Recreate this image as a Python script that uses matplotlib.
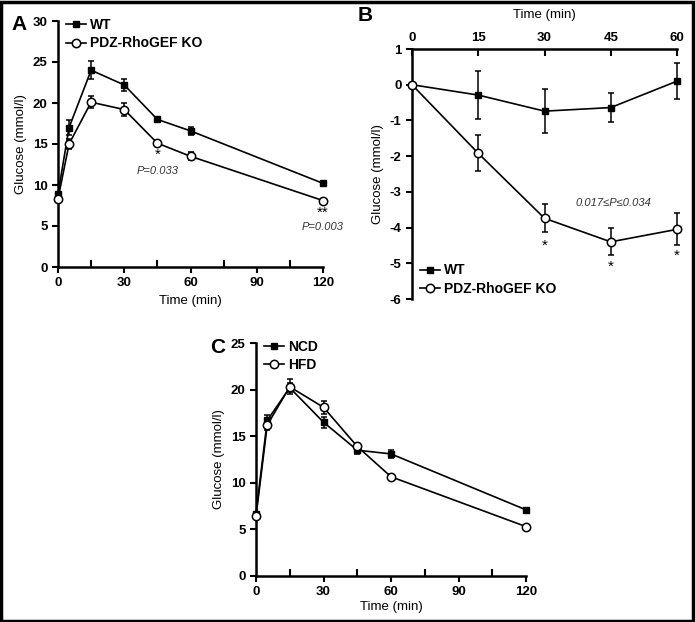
import numpy as np
import matplotlib.pyplot as plt
from matplotlib.patches import Rectangle
from matplotlib.lines import Line2D

plt.rcParams['font.family'] = ['Liberation Sans', 'DejaVu Sans']
plt.rcParams['axes.unicode_minus'] = False

# panel A: OGTT, WT vs KO
t_a = [0, 5, 15, 30, 45, 60, 120]
wt_a = [8.9, 17.0, 24.0, 22.2, 18.0, 16.6, 10.2]
wt_a_err = [0.3, 0.9, 1.1, 0.75, 0.35, 0.45, 0.2]
ko_a = [8.3, 15.0, 20.1, 19.2, 15.1, 13.5, 8.1]
ko_a_err = [0.2, 0.65, 0.75, 0.75, 0.2, 0.5, 0.2]

# panel B: change in glucose
t_b = [0, 15, 30, 45, 60]
wt_b = [0, -0.29, -0.74, -0.64, 0.1]
wt_b_err = [0, 0.68, 0.62, 0.41, 0.5]
ko_b = [0, -1.92, -3.74, -4.4, -4.05]
ko_b_err = [0, 0.5, 0.39, 0.38, 0.45]

# panel C: NCD vs HFD
t_c = [0, 5, 15, 30, 45, 60, 120]
ncd_c = [6.7, 16.7, 20.2, 16.5, 13.5, 13.1, 7.1]
ncd_c_err = [0.2, 0.6, 0.5, 0.6, 0.4, 0.4, 0.2]
hfd_c = [6.4, 16.2, 20.3, 18.1, 13.9, 10.65, 5.3]
hfd_c_err = [0.2, 0.5, 0.8, 0.7, 0.4, 0.3, 0.1]

W, H = 695, 622
fig = plt.figure(figsize=(W/100, H/100), dpi=100)

def box(l, t, r, b):
	return [l/W, 1-b/H, (r-l)/W, (b-t)/H]

def mstyle(filled):
	if filled:
		return dict(marker='s', ms=4.5, mfc='black', mec='black')
	return dict(marker='o', ms=6, mfc='white', mec='black', mew=1.1)

def series(ax, x, y, e, filled):
	c = ax.errorbar(x, y, yerr=e, color='black', lw=1.2, capsize=2.5, elinewidth=1.1,
		capthick=1.1, zorder=3 if filled else 4, **mstyle(filled))
	for a in c.get_children():
		a.set_clip_on(False)
	c[0].set_clip_on(False)

def legend(ax, labels, **kw):
	hs = [Line2D([], [], color='black', lw=1.2, **mstyle(True)),
		Line2D([], [], color='black', lw=1.2, **mstyle(False))]
	ax.legend(hs, labels, frameon=False, prop={'size': 10, 'weight': 'bold'},
		handlelength=1.4, handletextpad=0.3, labelspacing=0.3, borderaxespad=0.2, **kw)

def style(ax):
	for s in ax.spines.values():
		s.set_linewidth(1.8)
	ax.tick_params(width=1.5, length=4, labelsize=9.5)
	for lab in ax.get_xticklabels() + ax.get_yticklabels():
		lab.set_fontweight('bold')

tfont = dict(fontsize=9.5)

# A
axA = fig.add_axes(box(58, 21, 323, 267))
series(axA, t_a, wt_a, wt_a_err, True)
series(axA, t_a, ko_a, ko_a_err, False)
axA.set_xlim(0, 120)
axA.set_ylim(0, 30)
axA.set_xticks([0, 30, 60, 90, 120])
axA.set_xticks([15, 45, 75, 105], minor=True)
axA.set_yticks(range(0, 31, 5))
axA.spines[['top', 'right']].set_visible(False)
style(axA)
axA.tick_params(axis='x', which='minor', direction='in', length=5, width=1.5)
axA.set_xlabel('Time (min)', **tfont)
axA.set_ylabel('Glucose (mmol/l)', **tfont)
legend(axA, ['WT', 'PDZ-RhoGEF KO'], loc='upper left', bbox_to_anchor=(0.0, 1.045))
axA.text(45, 13.2, '*', ha='center', fontsize=11)
axA.text(45, 11.4, 'P=0.033', ha='center', fontsize=8, style='italic', color='#333333')
axA.text(120, 6.1, '**', ha='center', fontsize=11)
axA.text(120, 4.5, 'P=0.003', ha='center', fontsize=8, style='italic', color='#333333')
fig.text(11/W, 1-30/H, 'A', fontsize=15, fontweight='bold')

# B
axB = fig.add_axes(box(412, 49, 677, 299))
series(axB, t_b, wt_b, wt_b_err, True)
series(axB, t_b, ko_b, ko_b_err, False)
axB.set_xlim(0, 60)
axB.set_ylim(-6, 1)
axB.set_xticks([0, 15, 30, 45, 60])
axB.set_yticks(range(-6, 2))
axB.xaxis.tick_top()
axB.xaxis.set_label_position('top')
axB.spines[['bottom', 'right']].set_visible(False)
style(axB)
axB.tick_params(axis='x', direction='in', length=5)
axB.set_xlabel('Time (min)', labelpad=10, **tfont)
axB.set_ylabel('Glucose (mmol/l)', **tfont)
legend(axB, ['WT', 'PDZ-RhoGEF KO'], loc='lower left', bbox_to_anchor=(0.0, -0.02))
axB.text(45.5, -3.4, '0.017≤P≤0.034', ha='center', fontsize=8, style='italic', color='#333333')
for xs, ys in [(30, -4.62), (45, -5.22), (60, -4.9)]:
	axB.text(xs, ys, '*', ha='center', fontsize=11)
fig.text(358/W, 1-21/H, 'B', fontsize=15, fontweight='bold')

# C
axC = fig.add_axes(box(256, 343, 526, 576))
series(axC, t_c, ncd_c, ncd_c_err, True)
series(axC, t_c, hfd_c, hfd_c_err, False)
axC.set_xlim(0, 120)
axC.set_ylim(0, 25)
axC.set_xticks([0, 30, 60, 90, 120])
axC.set_xticks([15, 45, 75, 105], minor=True)
axC.set_yticks(range(0, 26, 5))
axC.spines[['top', 'right']].set_visible(False)
style(axC)
axC.tick_params(axis='x', which='minor', direction='in', length=5, width=1.5)
axC.set_xlabel('Time (min)', labelpad=2, **tfont)
axC.set_ylabel('Glucose (mmol/l)', **tfont)
legend(axC, ['NCD', 'HFD'], loc='upper left', bbox_to_anchor=(0.0, 1.05))
fig.text(210/W, 1-353/H, 'C', fontsize=15, fontweight='bold')

fig.patches.append(Rectangle((0.0015, 0.002), 0.996, 0.995, transform=fig.transFigure,
	fill=False, edgecolor='black', lw=2.5))

fig.savefig('out.png', dpi=100)
